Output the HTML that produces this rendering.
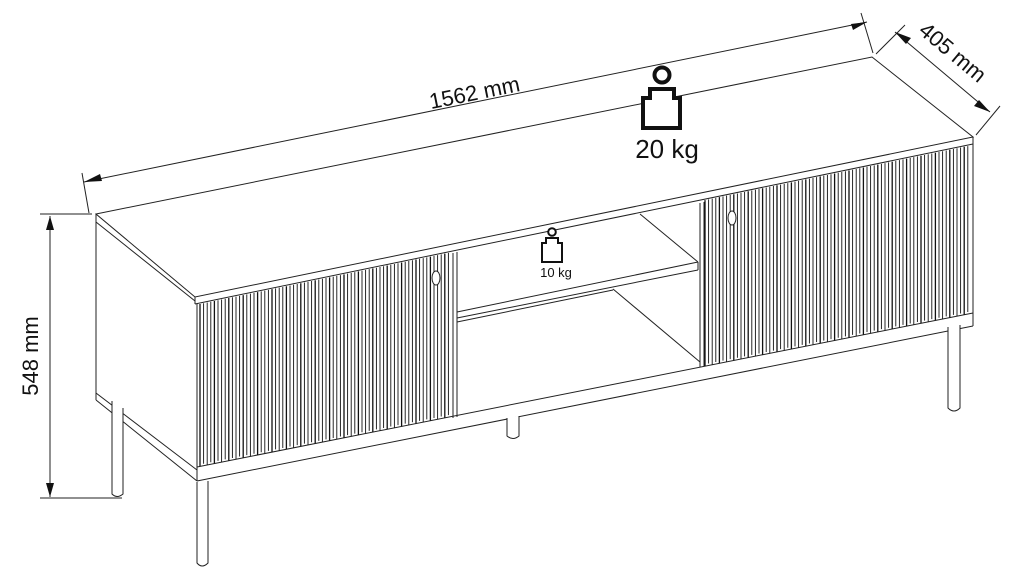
<!DOCTYPE html>
<html><head><meta charset="utf-8"><style>
html,body{margin:0;padding:0;background:#fff;width:1024px;height:583px;overflow:hidden}
svg{display:block}
text{font-family:"Liberation Sans",sans-serif;fill:#111}
</style></head><body>
<svg id="s" width="1024" height="583" viewBox="0 0 1024 583" xmlns="http://www.w3.org/2000/svg">
<g fill="none" stroke="#222" stroke-width="1">
<line x1="84" y1="182" x2="867" y2="22"/>
<line x1="82" y1="173" x2="89" y2="213"/>
<line x1="861" y1="13" x2="873" y2="53"/>
<line x1="895" y1="32" x2="990" y2="112"/>
<line x1="876" y1="54" x2="905" y2="25"/>
<line x1="976" y1="135" x2="1000" y2="106"/>
<line x1="50" y1="216" x2="50" y2="497"/>
<line x1="40" y1="214" x2="92" y2="214"/>
<line x1="40" y1="498" x2="122" y2="498"/>
<polygon points="96,214 872,57 973,137 195,297" fill="#fff"/>
<line x1="195" y1="297" x2="195" y2="304"/>
<line x1="195" y1="304" x2="973" y2="144"/>
<line x1="973" y1="137" x2="973" y2="326"/>
<line x1="96" y1="214" x2="96" y2="400"/>
<line x1="96" y1="222" x2="195" y2="301"/>
<line x1="96" y1="393" x2="197" y2="470"/>
<line x1="96" y1="400" x2="197" y2="481"/>
<line x1="197" y1="304" x2="197" y2="481"/>
<line x1="197" y1="467" x2="973" y2="313"/>
<line x1="197" y1="481" x2="973" y2="326"/>
<line x1="453" y1="253" x2="453" y2="418"/>
<line x1="457" y1="252" x2="457" y2="417"/>
<line x1="700" y1="203" x2="700" y2="367"/>
<line x1="704" y1="202" x2="704" y2="366"/>
<line x1="640" y1="214" x2="698" y2="262"/>
<line x1="457" y1="312" x2="698" y2="262"/>
<line x1="698" y1="262" x2="698" y2="270"/>
<line x1="457" y1="318" x2="698" y2="270"/>
<line x1="457" y1="322" x2="613" y2="290"/>
<line x1="613" y1="289" x2="700" y2="362"/>
<path d="M112,401 V494 Q117,499 123,494 V408" fill="#fff"/>
<path d="M197,482 V563 Q202,569 208,563 V481" fill="#fff"/>
<path d="M948,327 V408 Q954,414 960,408 V325" fill="#fff"/>
<path d="M507,418 V436 Q513,441 519,436 V416" fill="#fff"/>
</g>
<g id="fl" fill="none" stroke="#111" stroke-width="0.9"></g>
<g fill="#fff" stroke="#222" stroke-width="1">
<ellipse cx="436" cy="278" rx="4" ry="7"/>
<ellipse cx="732" cy="218" rx="4" ry="7"/>
</g>
<g fill="#111">
<polygon points="84,182 100,174 102,181"/>
<polygon points="867,22 851,24 853,30"/>
<polygon points="895,32 906,44 911,38"/>
<polygon points="990,112 979,100 974,106"/>
<polygon points="50,216 46,230 54,230"/>
<polygon points="50,497 46,483 54,483"/>
</g>
<g fill="#fff" stroke="#111" stroke-width="4">
<circle cx="662" cy="75" r="7.5"/>
<path d="M650,89 H674 V98 H680 V128 H643 V98 H650 Z"/>
</g>
<g fill="#fff" stroke="#111" stroke-width="2">
<circle cx="552" cy="232" r="3.8"/>
<path d="M546,238 H558 V243 H562 V262 H542 V243 H546 Z"/>
</g>
<text x="667" y="158" font-size="26" text-anchor="middle">20 kg</text>
<text x="556" y="277" font-size="13" text-anchor="middle">10 kg</text>
<text x="0" y="0" font-size="22" text-anchor="middle" transform="translate(476,100) rotate(-11.5)">1562 mm</text>
<text x="0" y="0" font-size="22" text-anchor="middle" transform="translate(948,58) rotate(40)">405 mm</text>
<text x="0" y="0" font-size="22" text-anchor="middle" transform="translate(38,356) rotate(-90)">548 mm</text>
</svg>
<script>
(function(){
var g=document.getElementById('fl'),ns='http://www.w3.org/2000/svg';
function T(x){return 297+(x-195)*(137-297)/(973-195)+7;}
function R(x){return 467+(x-197)*(313-467)/(973-197);}
function door(a,b){
 var i=0;
 for(var x=a;x<=b;x+=3.6){
  var l=document.createElementNS(ns,'line');
  l.setAttribute('x1',x);l.setAttribute('x2',x);
  l.setAttribute('y1',T(x)+1);l.setAttribute('y2',R(x)-(i%2?2:0));
  if(i%4==0)l.setAttribute('stroke-width','1.3');
  g.appendChild(l);i++;
 }
}
door(200,452);door(705,970);
})();
</script>
</body></html>
